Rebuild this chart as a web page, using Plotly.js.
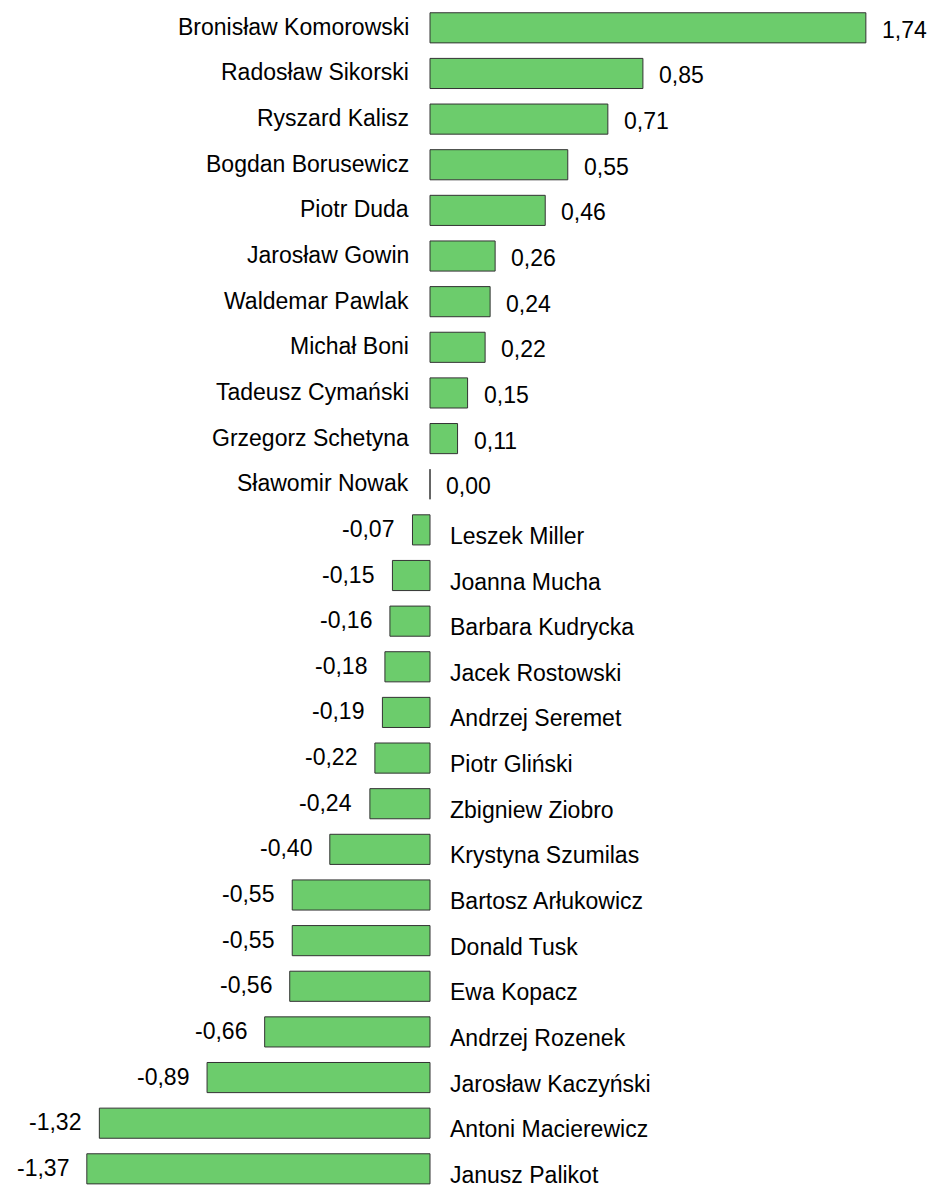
<!DOCTYPE html>
<html><head><meta charset="utf-8">
<script src="https://cdn.plot.ly/plotly-3.0.1.min.js"></script>
<style>html,body{margin:0;padding:0;background:#fff}</style>
</head><body>
<div id="chart" style="width:935px;height:1188px"></div>
<script>
const names = ["Bronisław Komorowski","Radosław Sikorski","Ryszard Kalisz","Bogdan Borusewicz","Piotr Duda","Jarosław Gowin","Waldemar Pawlak","Michał Boni","Tadeusz Cymański","Grzegorz Schetyna","Sławomir Nowak","Leszek Miller","Joanna Mucha","Barbara Kudrycka","Jacek Rostowski","Andrzej Seremet","Piotr Gliński","Zbigniew Ziobro","Krystyna Szumilas","Bartosz Arłukowicz","Donald Tusk","Ewa Kopacz","Andrzej Rozenek","Jarosław Kaczyński","Antoni Macierewicz","Janusz Palikot"];
const values = [1.74,0.85,0.71,0.55,0.46,0.26,0.24,0.22,0.15,0.11,0.00,-0.07,-0.15,-0.16,-0.18,-0.19,-0.22,-0.24,-0.40,-0.55,-0.55,-0.56,-0.66,-0.89,-1.32,-1.37];
const valueLabels = values.map(v => v.toFixed(2).replace('.', ','));

const idx = names.map((_, i) => i);
const font = {family: "Arial", size: 23, color: "#000"};

const annotations = [];
values.forEach((v, i) => {
  const pos = v >= 0;
  annotations.push({
    x: 0, y: i, xref: 'x', yref: 'y', text: names[i], showarrow: false,
    xanchor: pos ? 'right' : 'left', yanchor: 'middle', borderpad: 0,
    xshift: pos ? -20 : 19, yshift: pos ? 1 : -6, font: font
  });
  annotations.push({
    x: v, y: i, xref: 'x', yref: 'y', text: valueLabels[i], showarrow: false,
    xanchor: pos ? 'left' : 'right', yanchor: 'middle', borderpad: 0,
    xshift: pos ? 15 : -17, yshift: pos ? -2 : 1, font: font
  });
});

const trace = {
  type: 'bar', orientation: 'h', x: values, y: idx, width: 0.66,
  marker: {color: '#6ccc6c', line: {color: '#333333', width: 1}},
  hoverinfo: 'none'
};

const layout = {
  width: 935, height: 1188,
  margin: {l: 0, r: 0, t: 5, b: 0, pad: 0},
  paper_bgcolor: '#fff', plot_bgcolor: '#fff',
  showlegend: false,
  xaxis: {range: [-1.7166, 2.016], visible: false, fixedrange: true},
  yaxis: {range: [25.42, -0.5], visible: false, fixedrange: true},
  annotations: annotations,
  bargap: 0
};

Plotly.newPlot('chart', [trace], layout, {displayModeBar: false, staticPlot: true});
</script>
</body></html>
